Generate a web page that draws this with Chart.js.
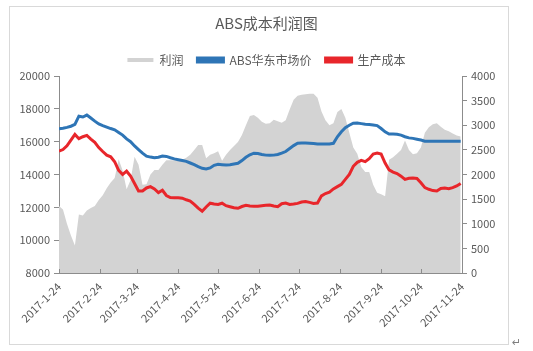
<!DOCTYPE html>
<html>
<head>
<meta charset="utf-8">
<script src="https://cdn.jsdelivr.net/npm/chart.js@4.4.1/dist/chart.umd.min.js"></script>
<style>
  html, body { margin: 0; padding: 0; background: #fff; }
  #wrap { position: relative; width: 533px; height: 351px; }
  #profit-chart { position: absolute; left: 0; top: 0; }
  #frame { position: absolute; left: 9px; top: 6px; width: 498px; height: 337px; border: 1px solid #d9d9d9; pointer-events: none; }
  #mark { position: absolute; left: 512px; top: 336px; font: 11px "DejaVu Sans", sans-serif; color: #7f7f7f; }
</style>
</head>
<body>
<div id="wrap">
  <canvas id="profit-chart" width="533" height="351"></canvas>
  <div id="frame"></div>
  <span id="mark">↵</span>
</div>
<script>
// x = days since 2017-1-24, sampled every 3 days
const days = Array.from({ length: 102 }, (_, i) => i * 3);

const tickDays = [0, 31, 59, 90, 120, 151, 181, 212, 243, 273, 304];
const tickLabels = ['2017-1-24', '2017-2-24', '2017-3-24', '2017-4-24', '2017-5-24', '2017-6-24',
  '2017-7-24', '2017-8-24', '2017-9-24', '2017-10-24', '2017-11-24'];

// ABS华东市场价 (left axis)
const marketPrice = [
  16780, 16820, 16870, 16940, 17050, 17550, 17500, 17620, 17440, 17250,
  17080, 16980, 16890, 16800, 16720, 16560, 16400, 16170, 16000, 15740,
  15520, 15300, 15120, 15060, 15020, 15050, 15120, 15100, 15020, 14950,
  14900, 14850, 14800, 14700, 14600, 14480, 14380, 14340, 14400, 14560,
  14620, 14600, 14580, 14600, 14640, 14680, 14850, 15050, 15200, 15300,
  15280, 15220, 15180, 15170, 15180, 15220, 15300, 15400, 15580, 15760,
  15900, 15920, 15920, 15910, 15890, 15860, 15860, 15860, 15860, 15900,
  16300, 16600, 16850, 17000, 17120, 17140, 17100, 17060, 17040, 17020,
  16980, 16800, 16600, 16470, 16460, 16450, 16400, 16300, 16230, 16200,
  16150, 16100, 16030, 16020, 16020, 16020, 16020, 16020, 16020, 16020,
  16020, 16020
];

// 生产成本 (left axis)
const productionCost = [
  15420, 15520, 15750, 16100, 16440, 16180, 16300, 16380, 16160, 15960,
  15640, 15400, 15180, 15080, 14780, 14250, 14000, 14200, 13900, 13450,
  13000, 13000, 13180, 13260, 13120, 12900, 13040, 12720, 12600, 12580,
  12580, 12560, 12460, 12380, 12180, 11950, 11760, 12020, 12250, 12200,
  12180, 12250, 12100, 12040, 11980, 11940, 12050, 12120, 12080, 12060,
  12060, 12100, 12120, 12140, 12080, 12040, 12220, 12260, 12180, 12200,
  12240, 12320, 12360, 12300, 12240, 12260, 12700, 12840, 12920, 13120,
  13260, 13400, 13700, 14000, 14500, 14740, 14860, 14780, 14960, 15240,
  15300, 15240, 14700, 14280, 14150, 14060, 13900, 13700, 13770, 13780,
  13760, 13500, 13200, 13100, 13020, 13000, 13150, 13170, 13140, 13200,
  13300, 13450
];

// 利润 (right axis)
const profit = [
  1360, 1290, 1000, 760, 560, 1190, 1170, 1270, 1320, 1360,
  1480, 1580, 1720, 1840, 1930, 2310, 2080, 1700, 1890, 2360,
  2200, 1790, 1800, 2000, 2090, 2090, 2200, 2290, 2290, 2290,
  2300, 2300, 2340, 2400, 2500, 2600, 2600, 2330, 2400, 2430,
  2470, 2280, 2400, 2500, 2580, 2660, 2800, 3000, 3190, 3210,
  3150, 3070, 3030, 3040, 3110, 3080, 3050, 3100, 3320, 3520,
  3600, 3620, 3630, 3640, 3640, 3560, 3280, 3100, 3000, 3040,
  3270, 3330, 3150, 2850, 2550, 2420, 2150, 2050, 2050, 1790,
  1630, 1600, 1560, 2300, 2350, 2420, 2500, 2690, 2500, 2410,
  2430, 2550, 2850, 2960, 3020, 3040, 2970, 2910, 2880, 2830,
  2790, 2770
];

const pts = arr => arr.map((v, i) => ({ x: days[i], y: v }));

const textColor = '#595959';
const axisColor = '#8c8c8c';
const fontFamily = '"Noto Sans CJK SC", "Noto Sans", sans-serif';

// small inward tick marks on the date axis
const innerTicks = {
  id: 'innerTicks',
  afterDraw(chart) {
    const { ctx, chartArea, scales } = chart;
    ctx.save();
    ctx.strokeStyle = axisColor;
    ctx.lineWidth = 1;
    tickDays.forEach(d => {
      const x = Math.round(scales.x.getPixelForValue(d)) + 0.5;
      ctx.beginPath();
      ctx.moveTo(x, chartArea.bottom);
      ctx.lineTo(x, chartArea.bottom - 4);
      ctx.stroke();
    });
    ctx.restore();
  }
};

new Chart(document.getElementById('profit-chart'), {
  type: 'line',
  data: {
    datasets: [
      {
        label: '利润',
        data: pts(profit),
        yAxisID: 'y1',
        backgroundColor: '#d3d3d3',
        borderColor: '#d3d3d3',
        borderWidth: 0,
        fill: 'origin',
        pointRadius: 0,
        order: 3
      },
      {
        label: 'ABS华东市场价',
        data: pts(marketPrice),
        yAxisID: 'y',
        borderColor: '#2e75b6',
        backgroundColor: '#2e75b6',
        borderWidth: 3,
        pointRadius: 0,
        order: 2
      },
      {
        label: '生产成本',
        data: pts(productionCost),
        yAxisID: 'y',
        borderColor: '#e8262b',
        backgroundColor: '#e8262b',
        borderWidth: 3,
        pointRadius: 0,
        order: 1
      }
    ]
  },
  options: {
    responsive: false,
    animation: false,
    layout: { padding: 0 },
    plugins: {
      title: {
        display: true,
        text: 'ABS成本利润图',
        color: textColor,
        font: { family: fontFamily, size: 15, weight: 'normal' },
        padding: { top: 14, bottom: 8 }
      },
      legend: {
        display: true,
        labels: {
          color: textColor,
          font: { family: fontFamily, size: 12 },
          boxWidth: 26,
          boxHeight: 4,
          padding: 14,
          sort: (a, b) => a.datasetIndex - b.datasetIndex
        }
      },
      tooltip: { enabled: false }
    },
    scales: {
      x: {
        type: 'linear',
        min: 0,
        max: 304,
        afterBuildTicks: scale => { scale.ticks = tickDays.map(v => ({ value: v })); },
        afterFit: scale => { scale.height = 78; },
        grid: { drawOnChartArea: false, drawTicks: false },
        border: { color: axisColor },
        ticks: {
          autoSkip: false,
          minRotation: 45,
          maxRotation: 45,
          padding: 7,
          color: textColor,
          font: { family: fontFamily, size: 11 },
          callback: (v, i) => tickLabels[i]
        }
      },
      y: {
        position: 'left',
        min: 8000,
        max: 20000,
        afterFit: scale => { scale.width = 59; },
        grid: { drawOnChartArea: false, tickLength: 5, color: axisColor },
        border: { color: axisColor },
        ticks: {
          stepSize: 2000,
          padding: 4,
          color: textColor,
          font: { family: fontFamily, size: 11 },
          callback: v => String(v)
        }
      },
      y1: {
        position: 'right',
        min: 0,
        max: 4000,
        afterFit: scale => { scale.width = 71; },
        grid: { drawOnChartArea: false, tickLength: 5, color: axisColor },
        border: { color: axisColor },
        ticks: {
          stepSize: 500,
          padding: 4,
          color: textColor,
          font: { family: fontFamily, size: 11 },
          callback: v => String(v)
        }
      }
    }
  },
  plugins: [innerTicks]
});
</script>
</body>
</html>
